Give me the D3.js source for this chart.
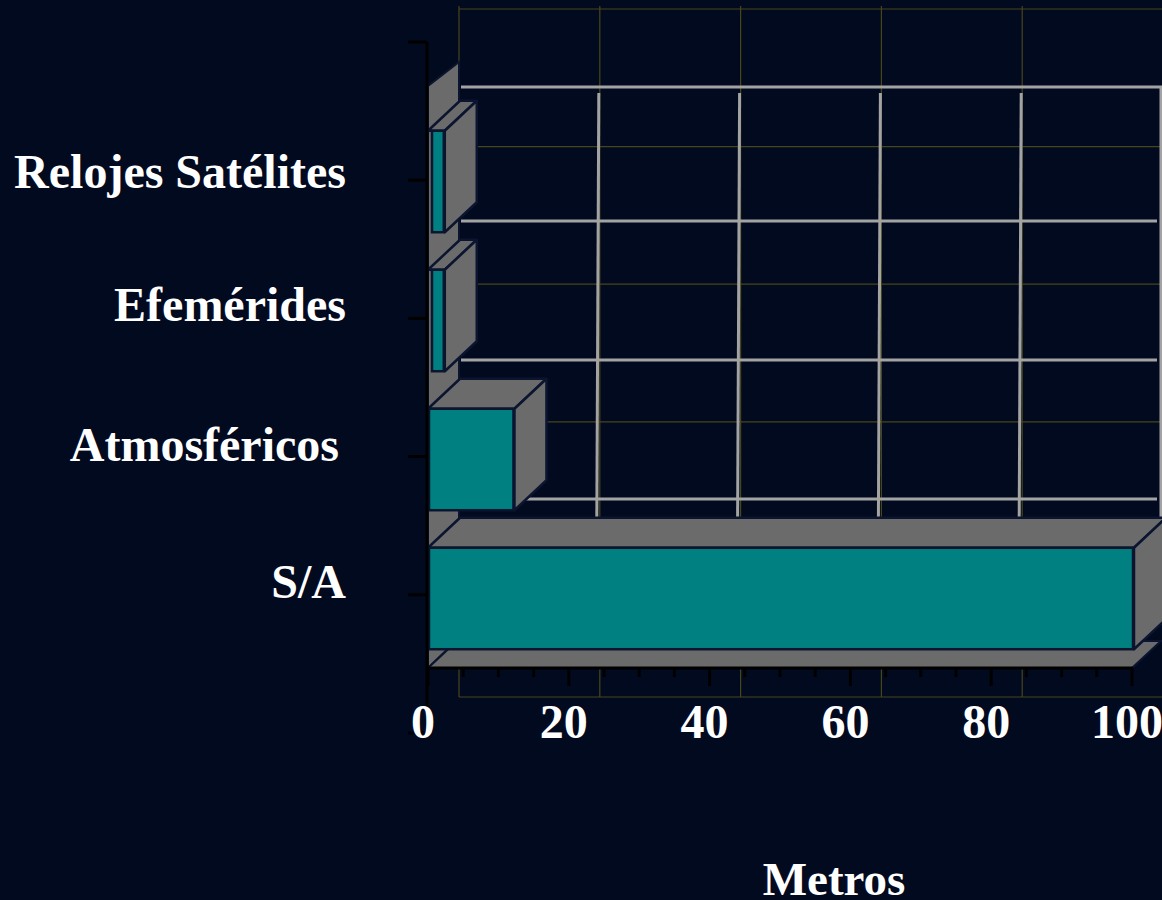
<!DOCTYPE html>
<html>
<head>
<meta charset="utf-8">
<script src="https://cdn.jsdelivr.net/npm/d3@7"></script>
<style>
  html, body { margin: 0; padding: 0; background: #020a1f; }
  svg { display: block; }
  text { font-family: "Liberation Serif", "Times New Roman", serif; font-weight: bold; fill: #ffffff; }
</style>
</head>
<body>
<div id="chart"></div>
<script>
const categories = ["Relojes Satélites", "Efemérides", "Atmosféricos", "S/A"];
const values = [2.1, 2.1, 12, 100];
const xTickValues = [0, 20, 40, 60, 80, 100];
const xTitle = "Metros";

const W = 1162, H = 900;
const DX = 32, DY = -30;          // 3D depth offset
const C = {
  bg: "#020a1f", teal: "#008080", face: "#6b6b6b", edge: "#0b1530",
  grid: "#a3a3a3", olive: "#46461a", axis: "#000000"
};

const svg = d3.select("#chart").append("svg").attr("width", W).attr("height", H);
svg.append("rect").attr("width", W).attr("height", H).attr("fill", C.bg);

const x = d3.scaleLinear().domain([0, 100]).range([428, 1132]);
const y = d3.scaleBand().domain(categories).range([112, 668]).paddingInner(0.27).paddingOuter(0.135);
const yBack = d3.scaleLinear().domain([0, 5]).range([9, 697]);      // back plane divisions
const yAxisTicks = d3.scaleLinear().domain([0, 5]).range([42, 733]); // left axis ticks

const bounds = categories.map(c => y(c) - y.step() * y.paddingInner() / 2);
const yTop = y.range()[0], yBot = y.range()[1];

// ---- back plane (olive) ----
const gOl = svg.append("g").attr("stroke", C.olive).attr("stroke-width", 1.2);
gOl.selectAll("line.h").data(d3.range(6)).join("line")
  .attr("x1", x(0) + 31).attr("x2", W).attr("y1", d => yBack(d)).attr("y2", d => yBack(d));
gOl.selectAll("line.v").data(xTickValues).join("line")
  .attr("x1", d => x(d) + 31).attr("x2", d => x(d) + 31).attr("y1", yBack(0) - 3).attr("y2", yBack(5));

// ---- back gridlines (gray) ----
const gGr = svg.append("g").attr("stroke", C.grid).attr("stroke-width", 3);
const backH = bounds.map((b, i) => i === 0 ? b + DY + 5 : b + DY);
gGr.selectAll("line.h").data(backH).join("line")
  .attr("x1", x(0) + 33).attr("x2", (d, i) => i === 0 ? W : x(100) + 25)
  .attr("y1", d => d).attr("y2", d => d);
gGr.selectAll("line.v").data(xTickValues.filter(v => v > 0 && v < 100)).join("line")
  .attr("x1", d => x(d) + 30).attr("x2", d => x(d) + 28)
  .attr("y1", backH[0] + 6).attr("y2", yBot + DY + 2 - 150 + 150 - 121);
gGr.append("line").attr("x1", x(100) + 29).attr("x2", x(100) + 29)
  .attr("y1", backH[0]).attr("y2", yBot - 150);

// ---- side wall ----
svg.append("polygon")
  .attr("points", [[x(0), yTop - 26], [x(0) + 31, yTop - 50], [x(0) + 31, yBot + DY], [x(0), yBot]].join(" "))
  .attr("fill", C.face).attr("stroke", C.edge).attr("stroke-width", 2);

// ---- floor ----
svg.append("polygon")
  .attr("points", [[x(0), yBot], [x(100), yBot], [x(100) + DX - 3, yBot + DY + 3], [x(0) + DX - 3, yBot + DY + 3]].join(" "))
  .attr("fill", C.face).attr("stroke", C.edge).attr("stroke-width", 2);

// ---- bars ----
const data = categories.map((c, i) => ({ c, v: values[i] }));
const bars = svg.selectAll("g.bar").data(data).join("g").attr("class", "bar");
bars.append("polygon")   // top face
  .attr("points", d => {
    const x0 = x(0), x1 = x(d.v) + 2, y0 = y(d.c);
    return [[x0, y0], [x1, y0], [x1 + DX, y0 + DY], [x0 + DX, y0 + DY]].join(" ");
  })
  .attr("fill", C.face).attr("stroke", C.edge).attr("stroke-width", 2.5).attr("stroke-linejoin", "round");
bars.append("polygon")   // side face
  .attr("points", d => {
    const x1 = x(d.v) + 2, y0 = y(d.c), y1 = y(d.c) + y.bandwidth();
    return [[x1, y0], [x1 + DX, y0 + DY], [x1 + DX, y1 + DY], [x1, y1]].join(" ");
  })
  .attr("fill", C.face).attr("stroke", C.edge).attr("stroke-width", 2.5).attr("stroke-linejoin", "round");
bars.append("rect")      // front face
  .attr("x", d => d.v < 5 ? x(0) + 4 : x(0) + 1)
  .attr("y", d => y(d.c))
  .attr("width", d => x(d.v) - x(0) - (d.v < 5 ? 3 : 0))
  .attr("height", y.bandwidth())
  .attr("fill", C.teal).attr("stroke", C.edge).attr("stroke-width", 2.5);

// ---- left axis ----
const gAx = svg.append("g").attr("stroke", C.axis).attr("stroke-width", 3);
gAx.append("line").attr("x1", x(0) - 1).attr("x2", x(0) - 1).attr("y1", yAxisTicks(0)).attr("y2", yAxisTicks(5));
gAx.selectAll("line.t").data(d3.range(6)).join("line")
  .attr("x1", x(0) - 20).attr("x2", x(0) - 1)
  .attr("y1", d => yAxisTicks(d)).attr("y2", d => yAxisTicks(d));

// ---- bottom axis ----
gAx.append("line").attr("x1", x(0) - 1).attr("x2", x(100) + 1).attr("y1", yBot).attr("y2", yBot);
gAx.selectAll("line.xt").data(d3.range(0, 101, 5)).join("line")
  .attr("x1", d => x(d)).attr("x2", d => x(d))
  .attr("y1", yBot).attr("y2", d => d % 20 === 0 ? yBot + 18 : yBot + 9);

svg.selectAll("text.xt").data(xTickValues).join("text")
  .attr("x", d => x(d) - 5).attr("y", 738)
  .attr("text-anchor", "middle").attr("font-size", 48)
  .text(d => d);

// ---- category labels ----
const labelOffsets = [6, 0, 1, -1];
svg.selectAll("text.cat").data(categories).join("text")
  .attr("x", (d, i) => i === 2 ? 339 : 346)
  .attr("y", (d, i) => y(d) + y.bandwidth() / 2 + labelOffsets[i])
  .attr("text-anchor", "end").attr("font-size", 48)
  .text(d => d);

// ---- axis title ----
svg.append("text").attr("x", 834).attr("y", 895)
  .attr("text-anchor", "middle").attr("font-size", 47)
  .text(xTitle);
</script>
</body>
</html>
